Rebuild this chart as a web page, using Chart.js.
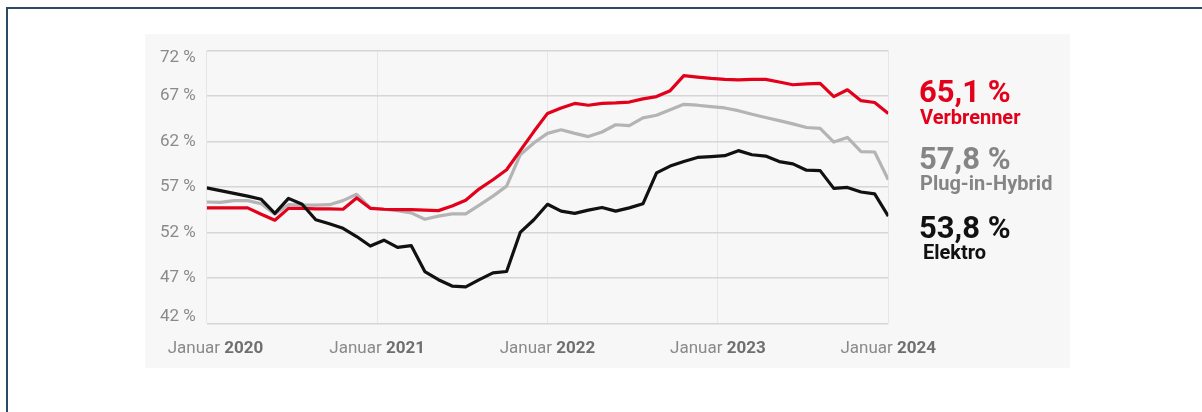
<!DOCTYPE html>
<html lang="de">
<head>
<meta charset="utf-8">
<title>Antriebsarten</title>
<script src="https://cdn.jsdelivr.net/npm/chart.js@4.4.1/dist/chart.umd.min.js"></script>
<style>
  html, body { margin: 0; padding: 0; background: #ffffff; }
  body { width: 1202px; height: 412px; position: relative; overflow: hidden; }
  .frame {
    position: absolute; left: 6px; top: 7px; right: -10px; bottom: -10px;
    border-left: 2px solid #2d4a65; border-top: 2px solid #2d4a65;
  }
  .panel {
    position: absolute; left: 145px; top: 34px; width: 925px; height: 334px;
    background: #f7f7f7;
  }
</style>
</head>
<body>
<div class="frame"></div>
<div class="panel"><canvas id="shareChart"></canvas></div>
<script>
// monthly-ish points, Januar 2020 .. Januar 2024 (51 evenly spaced values)
const VERBRENNER = [
  54.7, 54.7, 54.7, 54.7, 54.0, 53.35, 54.65, 54.65, 54.6, 54.6,
  54.55, 55.8, 54.65, 54.55, 54.5, 54.5, 54.45, 54.4, 54.9, 55.55,
  56.8, 57.8, 58.9, 61.0, 63.1, 65.1, 65.7, 66.2, 66.0, 66.2,
  66.25, 66.35, 66.7, 66.95, 67.6, 69.25, 69.1, 68.95, 68.85, 68.8,
  68.85, 68.85, 68.55, 68.25, 68.35, 68.4, 66.95, 67.7, 66.5, 66.3,
  65.1,
];
const PLUG_IN_HYBRID = [
  55.35, 55.3, 55.5, 55.5, 55.15, 54.0, 55.05, 55.0, 55.0, 55.05,
  55.5, 56.2, 54.7, 54.55, 54.4, 54.15, 53.45, 53.8, 54.05, 54.05,
  55.0, 56.0, 57.1, 60.55, 61.85, 62.9, 63.3, 62.9, 62.55, 63.05,
  63.85, 63.75, 64.6, 64.9, 65.5, 66.1, 66.0, 65.85, 65.7, 65.4,
  65.0, 64.65, 64.3, 63.95, 63.55, 63.45, 61.95, 62.45, 60.9, 60.85,
  57.8,
];
const ELEKTRO = [
  56.9, 56.6, 56.3, 56.0, 55.65, 54.1, 55.75, 55.1, 53.4, 52.95,
  52.45, 51.55, 50.5, 51.15, 50.35, 50.55, 47.7, 46.8, 46.1, 46.0,
  46.8, 47.55, 47.7, 52.0, 53.4, 55.1, 54.35, 54.1, 54.45, 54.75,
  54.35, 54.7, 55.15, 58.55, 59.3, 59.8, 60.25, 60.35, 60.45, 61.0,
  60.55, 60.4, 59.8, 59.55, 58.85, 58.8, 56.85, 56.95, 56.45, 56.25,
  53.8,
];
const SERIES_NAMES = ['Verbrenner', 'Plug-in-Hybrid', 'Elektro'];
const X_YEARS = ['2020', '2021', '2022', '2023', '2024'];
const X_PREFIX = 'Januar ';
const Y_MIN = 42;
const Y_MAX = 72;
const Y_STEP = 5;

const RED = '#e2001a';
const GREY = '#b4b4b4';
const GREY_TEXT = '#858585';
const BLACK = '#111111';
const TICK_COLOR = '#8a8a8a';
const YEAR_COLOR = '#6f6f6f';
const FONT = 'Roboto, "Noto Sans", sans-serif';

const LINE_STYLE = {
  borderWidth: 3.2,
  pointRadius: 0,
  tension: 0,
  fill: false,
  borderJoinStyle: 'round',
};

const LAST = VERBRENNER.length - 1;
const fmt = (v) => v.toFixed(1).replace('.', ',') + ' %';

// right hand labels, stacked under each other
const SIDE_LABELS = [
  { value: VERBRENNER[LAST], name: SERIES_NAMES[0], color: RED, valueY: 67.5, nameY: 90, nameX: 775 },
  { value: PLUG_IN_HYBRID[LAST], name: SERIES_NAMES[1], color: GREY_TEXT, valueY: 135, nameY: 156, nameX: 775 },
  { value: ELEKTRO[LAST], name: SERIES_NAMES[2], color: BLACK, valueY: 203.5, nameY: 225, nameX: 778 },
];

const labelsPlugin = {
  id: 'labelsPlugin',
  afterDraw(chart) {
    const { ctx, chartArea, scales } = chart;
    ctx.save();

    // x axis: "Januar" regular + year bold
    ctx.textBaseline = 'alphabetic';
    ctx.textAlign = 'left';
    scales.x.ticks.forEach((tick, i) => {
      const px = scales.x.getPixelForValue(tick.value);
      ctx.font = `400 17px ${FONT}`;
      const w1 = ctx.measureText(X_PREFIX).width;
      ctx.font = `700 17px ${FONT}`;
      const w2 = ctx.measureText(X_YEARS[i]).width;
      const left = Math.max(px - (w1 + w2) / 2, chartArea.left - 39);
      const y = chartArea.bottom + 30;
      ctx.font = `400 17px ${FONT}`;
      ctx.fillStyle = TICK_COLOR;
      ctx.fillText(X_PREFIX, left, y);
      ctx.font = `700 17px ${FONT}`;
      ctx.fillStyle = YEAR_COLOR;
      ctx.fillText(X_YEARS[i], left + w1, y);
    });

    // side labels
    SIDE_LABELS.forEach((item) => {
      ctx.fillStyle = item.color;
      ctx.font = `700 31px ${FONT}`;
      ctx.fillText(fmt(item.value), 774, item.valueY);
      ctx.font = `700 20px ${FONT}`;
      ctx.fillText(item.name, item.nameX, item.nameY);
    });

    ctx.restore();
  },
};

const DATASETS = [
  { label: SERIES_NAMES[2], data: ELEKTRO, borderColor: BLACK, order: 0, ...LINE_STYLE },
  { label: SERIES_NAMES[0], data: VERBRENNER, borderColor: RED, order: 1, ...LINE_STYLE },
  { label: SERIES_NAMES[1], data: PLUG_IN_HYBRID, borderColor: GREY, order: 2, ...LINE_STYLE },
];

const noPadding = (scale) => {
  scale.paddingTop = 0;
  scale.paddingBottom = 0;
  scale.paddingLeft = 0;
  scale.paddingRight = 0;
};

const SCALES = {
  x: {
    type: 'linear',
    min: 0,
    max: LAST,
    afterBuildTicks: (scale) => {
      scale.ticks = X_YEARS.map((_, i) => ({ value: (i * LAST) / (X_YEARS.length - 1) }));
    },
    afterFit: (scale) => {
      scale.height = 44.7;
      noPadding(scale);
    },
    ticks: { display: false },
    grid: { color: '#e6e6e6', lineWidth: 1, drawTicks: false },
    border: { display: false },
  },
  y: {
    min: Y_MIN,
    max: Y_MAX,
    afterFit: (scale) => {
      scale.width = 61.7;
      noPadding(scale);
    },
    ticks: {
      stepSize: Y_STEP,
      padding: 11,
      color: TICK_COLOR,
      font: { family: FONT, size: 17, lineHeight: '14px' },
      callback: (value) => {
        const label = `${value} %`;
        if (value === Y_MAX) return ['', label];
        if (value === Y_MIN) return [label, ''];
        return label;
      },
    },
    grid: { color: '#d6d6d6', lineWidth: 1.5, drawTicks: false },
    border: { display: false },
  },
};

const OPTIONS = {
  responsive: true,
  maintainAspectRatio: false,
  animation: false,
  events: [],
  layout: { padding: { top: 16.7, right: 181.7, bottom: 0, left: 0 } },
  plugins: {
    legend: { display: false },
    tooltip: { enabled: false },
  },
  scales: SCALES,
};

new Chart(document.getElementById('shareChart'), {
  type: 'line',
  data: {
    labels: VERBRENNER.map((_, i) => i),
    datasets: DATASETS,
  },
  options: OPTIONS,
  plugins: [labelsPlugin],
});
</script>
</body>
</html>
